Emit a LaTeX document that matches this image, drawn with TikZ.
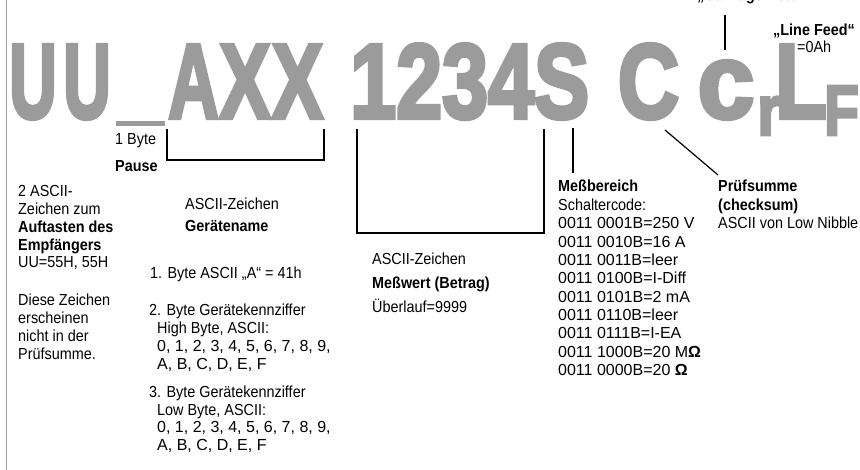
\documentclass[tikz,border=0pt]{standalone}
\usepackage{fontspec}
\usepackage{graphicx}
\setmainfont{Liberation Sans}[FakeStretch=0.9]
\newfontfamily\numf{Liberation Sans}
\newfontfamily\bigf[BoldFeatures={FakeBold=4}]{Liberation Sans}
\definecolor{bigg}{RGB}{155,155,155}
\definecolor{edge}{RGB}{165,165,165}
\newcommand\para[1]{\begin{tabular}[t]{@{}l@{}}#1\end{tabular}}
\newcommand\sx[2]{\scalebox{#1}[1]{#2}}
\newcommand\nm{\numf}
\begin{document}
\begin{tikzpicture}[x=1pt,y=-1pt,
  big/.style={inner sep=0,anchor=base,text=bigg,font=\fontsize{106}{110}\bigf\bfseries},
  sub/.style={inner sep=0,anchor=base,text=bigg,font=\fontsize{71}{74}\bigf\bfseries},
  txt/.style={inner sep=0,anchor=base west,font=\fontsize{16}{17.7}\selectfont},
  txtm/.style={inner sep=0,anchor=base west,font=\fontsize{16}{18.35}\selectfont},
  bt/.style={txt,font=\fontsize{16}{17.7}\selectfont\bfseries},
  thickl/.style={line width=2.5pt},
  thinl/.style={line width=1.2pt}]
\useasboundingbox (0,0) rectangle (860,470);
\fill[white] (0,0) rectangle (860,470);
% left border line
\coordinate (et) at (6.5,0);
\coordinate (eb) at (6.5,470);
\draw[edge,line width=1.5pt] (et) -- (eb);

% big glyphs
\node[big] (u1) at (33,118) {\sx{0.62}{U}};
\node[big] (u2) at (87,118) {\sx{0.62}{U}};
\fill[bigg] (116,121) rectangle (165,126);
\node[big] (a1) at (193.5,118) {\sx{0.66}{A}};
\node[big] (x1) at (245,118) {\sx{0.72}{X}};
\node[big] (x2) at (297.5,118) {\sx{0.72}{X}};
\node[big,anchor=base west] (num) at (350,118) {\sx{0.78}{1234S}};
\node[big] (cc) at (648.5,118) {\sx{0.8}{C}};
\node[big] (lc) at (726,118) {\sx{0.96}{c}};
\node[sub] (lr) at (769,135) {\sx{0.85}{r}};
\node[big] (ll) at (801,118) {\sx{0.8}{L}};
\node[sub,anchor=base west] (lf) at (824,135) {\sx{0.8}{F}};

% top right labels
\node[bt] (cr) at (697,1) {„Carriage Return“};
\node[bt] (lfd) at (773,36) {„Line Feed“};
\node[txt] (lfv) at (797,53) {=0Ah};
\coordinate (crt) at (725,15);
\coordinate (crb) at (725,50);
\draw[thinl] (crt) -- (crb);

% brackets
\coordinate (p1) at (167,129); \coordinate (p2) at (167,160);
\coordinate (p3) at (324,160); \coordinate (p4) at (324,129);
\draw[thickl] (p1) -- (p2) -- (p3) -- (p4);
\coordinate (q1) at (357,129); \coordinate (q2) at (357,233);
\coordinate (q3) at (544,233); \coordinate (q4) at (544,129);
\draw[thickl] (q1) -- (q2) -- (q3) -- (q4);
\coordinate (m1) at (573,128); \coordinate (m2) at (573,173);
\draw[thickl] (m1) -- (m2);
\coordinate (s1) at (665,130); \coordinate (s2) at (718,175);
\draw[thinl] (s1) -- (s2);

% left column
\node[txt] (byte) at (115,145) {1 Byte};
\node[bt] (pause) at (115,172) {Pause};
\node[txt] (left1) at (18,197) {\para{2 ASCII-\\Zeichen zum\\\textbf{Auftasten des}\\\textbf{Empfängers}\\UU=55H, 55H}};
\node[txt] (left2) at (18,306) {\para{Diese Zeichen\\erscheinen\\nicht in der\\Prüfsumme.}};

% middle column
\node[txt] (gz) at (185,210) {ASCII-Zeichen};
\node[bt] (gn) at (185,232) {Gerätename};
\node[txt] (by1) at (150,279) {1. Byte ASCII „A“ = 41h};
\node[txt] (by2) at (149,316) {2. Byte Gerätekennziffer};
\node[txt] (by2b) at (157,333.7) {\para{High Byte, ASCII:\\\nm 0, 1, 2, 3, 4, 5, 6, 7, 8, 9,\\\nm A, B, C, D, E, F}};
\node[txt] (by3) at (149,397.5) {3. Byte Gerätekennziffer};
\node[txt] (by3b) at (157,415.2) {\para{Low Byte, ASCII:\\\nm 0, 1, 2, 3, 4, 5, 6, 7, 8, 9,\\\nm A, B, C, D, E, F}};

% Messwert
\node[txt] (mz) at (372,265) {ASCII-Zeichen};
\node[bt] (mw) at (372,289) {Meßwert (Betrag)};
\node[txt] (ml) at (372,313) {Überlauf=9999};

% Messbereich
\node[txtm] (mb) at (558,192) {\para{\textbf{Meßbereich}\\Schaltercode:\\\nm 0011 0001B=250 V\\\nm 0011 0010B=16 A\\\nm 0011 0011B=leer\\\nm 0011 0100B=I-Diff\\\nm 0011 0101B=2 mA\\\nm 0011 0110B=leer\\\nm 0011 0111B=I-EA\\\nm 0011 1000B=20 M\textbf{Ω}\\\nm 0011 0000B=20 \textbf{Ω}}};

% Pruefsumme
\node[txtm] (ps) at (718,192) {\para{\textbf{Prüfsumme}\\\textbf{(checksum)}\\ASCII von Low Nibble}};
\end{tikzpicture}
\end{document}
